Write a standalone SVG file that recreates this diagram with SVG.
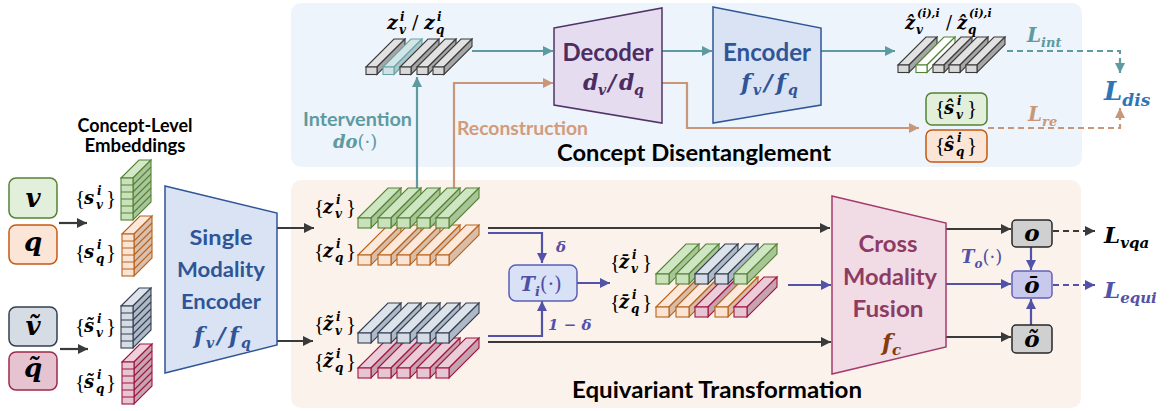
<svg xmlns="http://www.w3.org/2000/svg" width="1169" height="411" viewBox="0 0 1169 411">
<style>
.t{font-family:"Lato","Open Sans","Liberation Sans",sans-serif;font-weight:700}
.m{font-family:"DejaVu Serif","Liberation Serif",serif;font-weight:700;font-style:italic}
.br{font-family:"Liberation Serif",serif;font-weight:400;font-style:normal}
.up{font-family:"DejaVu Serif",serif;font-weight:400;font-style:normal}
.ln{fill:none;stroke-width:2.2}
.k{stroke:#3a3a3a}
.tl{stroke:#5e9aa1}
.bn{stroke:#c8977a}
.pu{stroke:#5252a8}
.d{stroke-dasharray:6 4}
</style>
<defs>
<marker id="aK" viewBox="0 0 10 10" refX="10" refY="5" markerWidth="11" markerHeight="10" markerUnits="userSpaceOnUse" orient="auto"><path d="M0,0L10,5L0,10z" fill="#3a3a3a"/></marker>
<marker id="aT" viewBox="0 0 10 10" refX="10" refY="5" markerWidth="11" markerHeight="10" markerUnits="userSpaceOnUse" orient="auto"><path d="M0,0L10,5L0,10z" fill="#5e9aa1"/></marker>
<marker id="aB" viewBox="0 0 10 10" refX="10" refY="5" markerWidth="11" markerHeight="10" markerUnits="userSpaceOnUse" orient="auto"><path d="M0,0L10,5L0,10z" fill="#c8977a"/></marker>
<marker id="aP" viewBox="0 0 10 10" refX="10" refY="5" markerWidth="11" markerHeight="10" markerUnits="userSpaceOnUse" orient="auto"><path d="M0,0L10,5L0,10z" fill="#5252a8"/></marker>
<g id="stk-g" stroke="#548235" stroke-width="1.1"><polygon points="0,0 18,-18 30,-18 12,0" fill="#d3e8c7"/><polygon points="12,0 30,-18 30,24 12,42" fill="#a8c69a"/><rect width="12" height="42" fill="#c9e2bb"/><path d="M0,7H12M0,14H12M0,21H12M0,28H12M0,35H12M12,7L30,-11M12,14L30,-4M12,21L30,3M12,28L30,10M12,35L30,17" fill="none"/></g>
<g id="stk-o" stroke="#b8621b" stroke-width="1.1"><polygon points="0,0 18,-18 30,-18 12,0" fill="#fde9dc"/><polygon points="12,0 30,-18 30,24 12,42" fill="#d9bfad"/><rect width="12" height="42" fill="#fce4d4"/><path d="M0,7H12M0,14H12M0,21H12M0,28H12M0,35H12M12,7L30,-11M12,14L30,-4M12,21L30,3M12,28L30,10M12,35L30,17" fill="none"/></g>
<g id="stk-s" stroke="#333f50" stroke-width="1.1"><polygon points="0,0 18,-18 30,-18 12,0" fill="#dfe4ec"/><polygon points="12,0 30,-18 30,24 12,42" fill="#aeb8c6"/><rect width="12" height="42" fill="#d6dce5"/><path d="M0,7H12M0,14H12M0,21H12M0,28H12M0,35H12M12,7L30,-11M12,14L30,-4M12,21L30,3M12,28L30,10M12,35L30,17" fill="none"/></g>
<g id="stk-p" stroke="#a0153e" stroke-width="1.1"><polygon points="0,0 18,-18 30,-18 12,0" fill="#edd0db"/><polygon points="12,0 30,-18 30,24 12,42" fill="#c7a4b1"/><rect width="12" height="42" fill="#e7c6d3"/><path d="M0,7H12M0,14H12M0,21H12M0,28H12M0,35H12M12,7L30,-11M12,14L30,-4M12,21L30,3M12,28L30,10M12,35L30,17" fill="none"/></g>
<g id="bar-g" stroke="#548235" stroke-width="1.1"><polygon points="0,0 30,-30 43,-30 13,0" fill="#cfe6c2"/><polygon points="13,0 43,-30 43,-20 13,10" fill="#a7c596"/><rect width="13" height="10" fill="#c9e2bb"/></g>
<g id="bar-o" stroke="#b8621b" stroke-width="1.1"><polygon points="0,0 30,-30 43,-30 13,0" fill="#fde9dc"/><polygon points="13,0 43,-30 43,-20 13,10" fill="#d8bda9"/><rect width="13" height="10" fill="#fce4d4"/></g>
<g id="bar-s" stroke="#333f50" stroke-width="1.1"><polygon points="0,0 30,-30 43,-30 13,0" fill="#dde3eb"/><polygon points="13,0 43,-30 43,-20 13,10" fill="#aeb8c6"/><rect width="13" height="10" fill="#d6dce5"/></g>
<g id="bar-p" stroke="#a0153e" stroke-width="1.1"><polygon points="0,0 30,-30 43,-30 13,0" fill="#ebcdd9"/><polygon points="13,0 43,-30 43,-20 13,10" fill="#c6a3b0"/><rect width="13" height="10" fill="#e7c6d3"/></g>
<g id="sb-k" stroke="#3a3a3a" stroke-width="1.1"><polygon points="0,0 28,-28 39,-28 11,0" fill="#e2e2e2"/><polygon points="11,0 39,-28 39,-20.5 11,7.5" fill="#a6a6a6"/><rect width="11" height="7.5" fill="#d9d9d9"/></g>
<g id="sb-t" stroke="#6aa3a8" stroke-width="1.1"><polygon points="0,0 28,-28 39,-28 11,0" fill="#d3e6e7"/><polygon points="11,0 39,-28 39,-20.5 11,7.5" fill="#a9c8ca"/><rect width="11" height="7.5" fill="#cfe3e4"/></g>
<g id="sb-w" stroke="#548235" stroke-width="1.1"><polygon points="0,0 28,-28 39,-28 11,0" fill="#ffffff"/><polygon points="11,0 39,-28 39,-20.5 11,7.5" fill="#ffffff"/><rect width="11" height="7.5" fill="#ffffff"/></g>
</defs>

<rect width="1169" height="411" fill="#ffffff"/>
<g id="panel-disentangle">
<rect x="291" y="3" width="791" height="164" rx="10" fill="#edf4fb"/>
<text class="t" x="557" y="161" font-size="23" textLength="274" lengthAdjust="spacingAndGlyphs">Concept Disentanglement</text>
</g>
<g id="panel-equivariant">
<rect x="291" y="180" width="790" height="228" rx="10" fill="#fcf2ec"/>
<text class="t" x="572" y="398" font-size="23" textLength="290" lengthAdjust="spacingAndGlyphs">Equivariant Transformation</text>
</g>

<g id="connectors">
<path class="ln k" d="M59,223H87" marker-end="url(#aK)"/>
<path class="ln k" d="M60,349H88" marker-end="url(#aK)"/>
<path class="ln k" d="M277,228H314" marker-end="url(#aK)"/>
<path class="ln k" d="M277,341H313" marker-end="url(#aK)"/>
<path class="ln tl" d="M417,200V77" marker-end="url(#aT)"/>
<path class="ln bn" d="M454,200V83H553" marker-end="url(#aB)"/>
<path class="ln tl" d="M472,51H553" marker-end="url(#aT)"/>
<path class="ln tl" d="M662,51H712" marker-end="url(#aT)"/>
<path class="ln bn" d="M662,83H687V128H919" marker-end="url(#aB)"/>
<path class="ln tl" d="M821,51H895" marker-end="url(#aT)"/>
<path class="ln tl d" d="M1007,51H1120V73" marker-end="url(#aT)"/>
<path class="ln bn d" d="M988,128H1120V108" marker-end="url(#aB)"/>
<path class="ln k" d="M488,228H830" marker-end="url(#aK)"/>
<path class="ln pu" d="M488,233H542V263" marker-end="url(#aP)"/>
<path class="ln pu" d="M488,336H542V301" marker-end="url(#aP)"/>
<path class="ln k" d="M488,342H831" marker-end="url(#aK)"/>
<path class="ln pu" d="M577,283H610" marker-end="url(#aP)"/>
<path class="ln pu" d="M788,285H831" marker-end="url(#aP)"/>
<path class="ln k" d="M946,229H1011" marker-end="url(#aK)"/>
<path class="ln pu" d="M946,284H1011" marker-end="url(#aP)"/>
<path class="ln k" d="M946,337H1011" marker-end="url(#aK)"/>
<path class="ln pu" d="M1031,247V270" marker-end="url(#aP)"/>
<path class="ln pu" d="M1031,325V299" marker-end="url(#aP)"/>
<path class="ln k d" d="M1053,231H1095" marker-end="url(#aK)"/>
<path class="ln pu d" d="M1053,285H1095" marker-end="url(#aP)"/>
</g>

<g id="labels-connectors">
<text class="t" x="303" y="126" font-size="19" fill="#5e9aa1" textLength="109" lengthAdjust="spacingAndGlyphs">Intervention</text>
<text class="m" x="333" y="148" font-size="18" fill="#5e9aa1" font-weight="400">do<tspan class="up">(·)</tspan></text>
<text class="t" x="457" y="135" font-size="19" fill="#d39b7a" textLength="131" lengthAdjust="spacingAndGlyphs">Reconstruction</text>
<text class="m" x="1027" y="42" font-size="20" fill="#5e9aa1">L<tspan font-size="13" dy="5">int</tspan></text>
<text class="m" x="1028" y="121" font-size="20" fill="#c8977a">L<tspan font-size="13" dy="5">re</tspan></text>
<text class="m" x="556" y="252" font-size="15" fill="#5252a8">δ</text>
<text class="m" x="548" y="330" font-size="15" fill="#5252a8">1 − δ</text>
<text class="m" x="961" y="263" font-size="18" fill="#5252a8">T<tspan font-size="12" dy="5">o</tspan><tspan class="up" dy="-5">(·)</tspan></text>
</g>

<g id="node-concept-title">
<text class="t" x="135" y="132" font-size="18" text-anchor="middle" textLength="115" lengthAdjust="spacingAndGlyphs">Concept-Level</text>
<text class="t" x="135" y="152" font-size="18" text-anchor="middle" textLength="101" lengthAdjust="spacingAndGlyphs">Embeddings</text>
</g>
<g id="node-v"><rect x="9" y="178" width="48" height="40" rx="7" fill="#e2efda" stroke="#548235" stroke-width="1.5"/><text class="m" x="33" y="207" font-size="26" text-anchor="middle">v</text></g>
<g id="node-q"><rect x="9" y="225" width="48" height="39" rx="7" fill="#fbe5d6" stroke="#c55a11" stroke-width="1.5"/><text class="m" x="33" y="251" font-size="26" text-anchor="middle">q</text></g>
<g id="node-vt"><rect x="9" y="307" width="48" height="39" rx="7" fill="#d6dce4" stroke="#333f50" stroke-width="1.5"/><text class="m" x="33" y="335" font-size="26" text-anchor="middle">&#x1E7D;</text></g>
<g id="node-qt"><rect x="9" y="352" width="48" height="38" rx="7" fill="#e6c3d0" stroke="#9e2a4a" stroke-width="1.5"/><text class="m" x="33" y="377" font-size="26" text-anchor="middle">q&#x303;</text></g>

<g id="node-s">
<use href="#stk-g" x="121" y="178"/>
<use href="#stk-o" x="122" y="234"/>
<use href="#stk-s" x="121" y="306"/>
<use href="#stk-p" x="122" y="362"/>
<text class="m" font-size="18"><tspan class="br" font-size="21" x="75" y="205">{</tspan><tspan x="84" y="204">s</tspan><tspan font-size="12" x="97" y="195">i</tspan><tspan font-size="12" x="96" y="209">v</tspan><tspan class="br" font-size="21" x="106" y="205">}</tspan></text>
<text class="m" font-size="18"><tspan class="br" font-size="21" x="75" y="259">{</tspan><tspan x="84" y="258">s</tspan><tspan font-size="12" x="97" y="249">i</tspan><tspan font-size="12" x="96" y="263">q</tspan><tspan class="br" font-size="21" x="106" y="259">}</tspan></text>
<text class="m" font-size="18"><tspan class="br" font-size="21" x="75" y="333">{</tspan><tspan x="84" y="332">s&#x303;</tspan><tspan font-size="12" x="97" y="323">i</tspan><tspan font-size="12" x="96" y="337">v</tspan><tspan class="br" font-size="21" x="106" y="333">}</tspan></text>
<text class="m" font-size="18"><tspan class="br" font-size="21" x="75" y="389">{</tspan><tspan x="84" y="388">s&#x303;</tspan><tspan font-size="12" x="97" y="379">i</tspan><tspan font-size="12" x="96" y="393">q</tspan><tspan class="br" font-size="21" x="106" y="389">}</tspan></text>
</g>

<g id="node-single-encoder">
<polygon points="165,186 277,213 277,345 165,373" fill="#dae3f3" stroke="#2f5597" stroke-width="1.5"/>
<text class="t" x="221" y="245" font-size="21" fill="#2f5597" text-anchor="middle" textLength="63" lengthAdjust="spacingAndGlyphs">Single</text>
<text class="t" x="221" y="277" font-size="21" fill="#2f5597" text-anchor="middle" textLength="88" lengthAdjust="spacingAndGlyphs">Modality</text>
<text class="t" x="221" y="309" font-size="21" fill="#2f5597" text-anchor="middle" textLength="80" lengthAdjust="spacingAndGlyphs">Encoder</text>
<text class="m" font-size="23" fill="#2f5597"><tspan x="194" y="343">f</tspan><tspan font-size="14" x="206" y="348">v</tspan><tspan x="217" y="343">/</tspan><tspan x="229" y="343">f</tspan><tspan font-size="14" x="241" y="348">q</tspan></text>
</g>

<g id="node-z">
<use href="#bar-o" x="358" y="255"/><use href="#bar-o" x="378" y="255"/><use href="#bar-o" x="397" y="255"/><use href="#bar-o" x="417" y="255"/><use href="#bar-o" x="436" y="255"/>
<use href="#bar-g" x="358" y="218"/><use href="#bar-g" x="378" y="218"/><use href="#bar-g" x="397" y="218"/><use href="#bar-g" x="417" y="218"/><use href="#bar-g" x="436" y="218"/>
<text class="m" font-size="18"><tspan class="br" font-size="21" x="314" y="214">{</tspan><tspan x="323" y="213">z</tspan><tspan font-size="12" x="336" y="204">i</tspan><tspan font-size="12" x="335" y="218">v</tspan><tspan class="br" font-size="21" x="346" y="214">}</tspan></text>
<text class="m" font-size="18"><tspan class="br" font-size="21" x="314" y="258">{</tspan><tspan x="323" y="257">z</tspan><tspan font-size="12" x="336" y="248">i</tspan><tspan font-size="12" x="335" y="262">q</tspan><tspan class="br" font-size="21" x="346" y="258">}</tspan></text>
</g>
<g id="node-zt">
<use href="#bar-p" x="358" y="368"/><use href="#bar-p" x="378" y="368"/><use href="#bar-p" x="397" y="368"/><use href="#bar-p" x="417" y="368"/><use href="#bar-p" x="436" y="368"/>
<use href="#bar-s" x="358" y="333"/><use href="#bar-s" x="378" y="333"/><use href="#bar-s" x="397" y="333"/><use href="#bar-s" x="417" y="333"/><use href="#bar-s" x="436" y="333"/>
<text class="m" font-size="18"><tspan class="br" font-size="21" x="314" y="331">{</tspan><tspan x="323" y="330">z&#x303;</tspan><tspan font-size="12" x="336" y="321">i</tspan><tspan font-size="12" x="335" y="335">v</tspan><tspan class="br" font-size="21" x="346" y="331">}</tspan></text>
<text class="m" font-size="18"><tspan class="br" font-size="21" x="314" y="368">{</tspan><tspan x="323" y="367">z&#x303;</tspan><tspan font-size="12" x="336" y="358">i</tspan><tspan font-size="12" x="335" y="372">q</tspan><tspan class="br" font-size="21" x="346" y="368">}</tspan></text>
</g>

<g id="node-zi">
<use href="#sb-k" x="366" y="67"/><use href="#sb-t" x="383" y="67"/><use href="#sb-k" x="400" y="67"/><use href="#sb-k" x="417" y="67"/><use href="#sb-k" x="433" y="67"/>
<text class="m" font-size="19"><tspan x="387" y="29">z</tspan><tspan font-size="12" x="400" y="21">i</tspan><tspan font-size="12" x="399" y="34">v</tspan><tspan class="up" font-weight="700" x="412" y="29">/</tspan><tspan x="424" y="29">z</tspan><tspan font-size="12" x="437" y="21">i</tspan><tspan font-size="12" x="436" y="34">q</tspan></text>
</g>

<g id="node-decoder">
<polygon points="554,28 662,8 662,123 554,105" fill="#e6dcef" stroke="#4f3465" stroke-width="1.5"/>
<text class="t" x="608" y="61" font-size="24" fill="#4b2d63" text-anchor="middle" textLength="91" lengthAdjust="spacingAndGlyphs">Decoder</text>
<text class="m" font-size="22" fill="#4b2d63"><tspan x="583" y="90">d</tspan><tspan font-size="14" x="598" y="95">v</tspan><tspan x="608" y="90">/</tspan><tspan x="619" y="90">d</tspan><tspan font-size="14" x="634" y="95">q</tspan></text>
</g>

<g id="node-encoder">
<polygon points="713,7 821,28 821,105 713,123" fill="#dae3f3" stroke="#2f5597" stroke-width="1.5"/>
<text class="t" x="767" y="61" font-size="24" fill="#2f5597" text-anchor="middle" textLength="88" lengthAdjust="spacingAndGlyphs">Encoder</text>
<text class="m" font-size="23" fill="#2f5597"><tspan x="741" y="90">f</tspan><tspan font-size="14" x="753" y="95">v</tspan><tspan x="764" y="90">/</tspan><tspan x="776" y="90">f</tspan><tspan font-size="14" x="788" y="95">q</tspan></text>
</g>

<g id="node-zhat">
<use href="#sb-k" x="898" y="65"/><use href="#sb-w" x="916" y="65"/><use href="#sb-k" x="933" y="65"/><use href="#sb-k" x="949" y="65"/><use href="#sb-k" x="966" y="65"/>
<text class="m" font-size="18"><tspan x="905" y="29">&#x1E91;</tspan><tspan font-size="11" x="917" y="17">(i),i</tspan><tspan font-size="12" x="916" y="34">v</tspan><tspan class="up" font-weight="700" x="946" y="29">/</tspan><tspan x="957" y="29">&#x1E91;</tspan><tspan font-size="11" x="969" y="17">(i),i</tspan><tspan font-size="12" x="968" y="34">q</tspan></text>
</g>

<g id="node-shat">
<rect x="926" y="93" width="61" height="32" rx="6" fill="#e2efda" stroke="#548235" stroke-width="1.5"/>
<rect x="926" y="130" width="61" height="32" rx="6" fill="#fbe5d6" stroke="#c55a11" stroke-width="1.5"/>
<text class="m" font-size="18"><tspan class="br" font-size="21" x="935" y="115">{</tspan><tspan x="944" y="114">&#x15D;</tspan><tspan font-size="12" x="957" y="105">i</tspan><tspan font-size="12" x="956" y="119">v</tspan><tspan class="br" font-size="21" x="967" y="115">}</tspan></text>
<text class="m" font-size="18"><tspan class="br" font-size="21" x="935" y="152">{</tspan><tspan x="944" y="151">&#x15D;</tspan><tspan font-size="12" x="957" y="142">i</tspan><tspan font-size="12" x="956" y="156">q</tspan><tspan class="br" font-size="21" x="967" y="152">}</tspan></text>
</g>

<g id="node-ldis"><text class="m" x="1104" y="100" font-size="26" fill="#2e75b6">L<tspan font-size="17" dy="6">dis</tspan></text></g>

<g id="node-ti">
<rect x="509" y="265" width="68" height="36" rx="7" fill="#d9e1f6" stroke="#5b5fb5" stroke-width="1.5"/>
<text class="m" x="520" y="291" font-size="20" fill="#4f4fa6">T<tspan font-size="13" dy="5">i</tspan><tspan class="up" dy="-5">(·)</tspan></text>
</g>

<g id="node-zbar">
<use href="#bar-o" x="656" y="307"/><use href="#bar-o" x="676" y="307"/><use href="#bar-p" x="695" y="307"/><use href="#bar-o" x="715" y="307"/><use href="#bar-p" x="734" y="307"/>
<use href="#bar-g" x="656" y="274"/><use href="#bar-g" x="676" y="274"/><use href="#bar-s" x="695" y="274"/><use href="#bar-s" x="715" y="274"/><use href="#bar-g" x="734" y="274"/>
<text class="m" font-size="18"><tspan class="br" font-size="21" x="610" y="269">{</tspan><tspan x="619" y="268">z&#x304;</tspan><tspan font-size="12" x="632" y="259">i</tspan><tspan font-size="12" x="631" y="273">v</tspan><tspan class="br" font-size="21" x="642" y="269">}</tspan></text>
<text class="m" font-size="18"><tspan class="br" font-size="21" x="610" y="309">{</tspan><tspan x="619" y="308">z&#x304;</tspan><tspan font-size="12" x="632" y="299">i</tspan><tspan font-size="12" x="631" y="313">q</tspan><tspan class="br" font-size="21" x="642" y="309">}</tspan></text>
</g>

<g id="node-fusion">
<polygon points="832,196 946,223 946,347 832,374" fill="#f1dbe5" stroke="#a23b6c" stroke-width="1.5"/>
<text class="t" x="888" y="252" font-size="23" fill="#8e3b63" text-anchor="middle" textLength="59" lengthAdjust="spacingAndGlyphs">Cross</text>
<text class="t" x="890" y="285" font-size="23" fill="#8e3b63" text-anchor="middle" textLength="94" lengthAdjust="spacingAndGlyphs">Modality</text>
<text class="t" x="888" y="317" font-size="23" fill="#8e3b63" text-anchor="middle" textLength="71" lengthAdjust="spacingAndGlyphs">Fusion</text>
<text class="m" x="882" y="350" font-size="23" fill="#843c0c">f<tspan font-size="15" dy="5">c</tspan></text>
</g>

<g id="node-o"><rect x="1012" y="220" width="40" height="27" rx="4" fill="#d0d0d0" stroke="#262626" stroke-width="1.5"/><text class="m" x="1032" y="241" font-size="23" text-anchor="middle">o</text></g>
<g id="node-obar"><rect x="1012" y="271" width="40" height="27" rx="4" fill="#c9c9ee" stroke="#6262b8" stroke-width="1.5"/><text class="m" x="1032" y="293" font-size="23" text-anchor="middle">&#x14D;</text></g>
<g id="node-otilde"><rect x="1012" y="325" width="40" height="28" rx="4" fill="#d0d0d0" stroke="#262626" stroke-width="1.5"/><text class="m" x="1032" y="347" font-size="23" text-anchor="middle">&#xF5;</text></g>
<g id="node-lvqa"><text class="m" x="1104" y="243" font-size="23" fill="#000">L<tspan font-size="15" dy="5">vqa</tspan></text></g>
<g id="node-lequi"><text class="m" x="1104" y="298" font-size="23" fill="#5252a8">L<tspan font-size="15" dy="5">equi</tspan></text></g>
</svg>
